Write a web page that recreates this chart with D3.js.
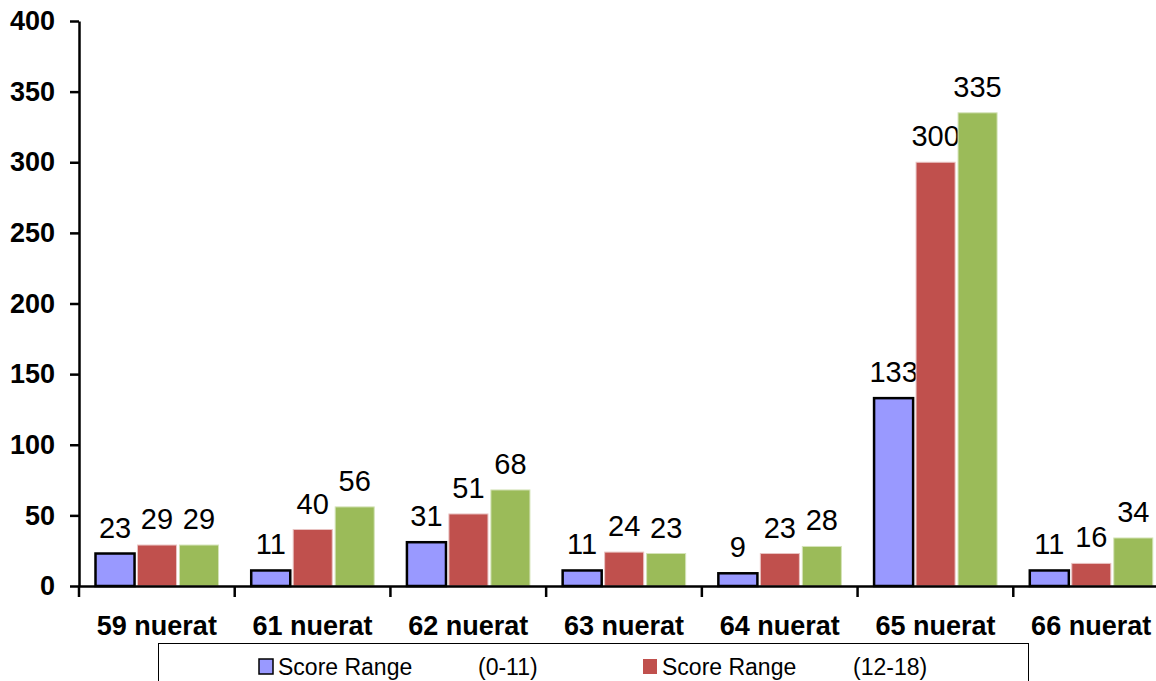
<!DOCTYPE html>
<html>
<head>
<meta charset="utf-8">
<script src="https://cdn.jsdelivr.net/npm/d3@7"></script>
<style>
    body { margin: 0; background: #fff; }
    svg { display: block; font-family: Arial, "Liberation Sans", sans-serif; }
</style>
</head>
<body>
<div id="chart"></div>
<script>
var categories = ["59 nuerat", "61 nuerat", "62 nuerat", "63 nuerat", "64 nuerat", "65 nuerat", "66 nuerat"];
var seriesNames = ["Score Range", "Score Range", "Score Range"];
var seriesRanges = ["(0-11)", "(12-18)", "(19-24)"];
var lowValues = [23, 11, 31, 11, 9, 133, 11];
var midValues = [29, 40, 51, 24, 23, 300, 16];
var highValues = [29, 56, 68, 23, 28, 335, 34];
var yTicks = [0, 50, 100, 150, 200, 250, 300, 350, 400];

var series = [lowValues, midValues, highValues];
var colors = ["#9999FF", "#C0504D", "#9BBB59"];
var strokes = ["#000", "#e9c3c2", "#d4e3b8"];
var strokeW = [2.5, 1, 1];

var width = 1156, height = 681;
var plotLeft = 79, plotRight = 1169, plotTop = 21, plotBottom = 586;

var svg = d3.select('#chart')
    .append('svg')
    .attr('width', width)
    .attr('height', height);

var x = d3.scaleBand()
    .domain(categories)
    .range([plotLeft, plotRight]);

var x1 = d3.scaleBand()
    .domain(d3.range(series.length))
    .range([16.5, x.bandwidth() - 16.2])
    .paddingInner(0.07);

var y = d3.scaleLinear()
    .domain([0, 400])
    .range([plotBottom, plotTop]);

// y axis
var yAxis = svg.append('g')
    .attr('transform', 'translate(' + plotLeft + ',0)')
    .call(d3.axisLeft(y).tickValues(yTicks).tickSize(9).tickPadding(15).tickSizeOuter(0));
yAxis.select('.domain').attr('stroke-width', 2.5);
yAxis.selectAll('.tick line').attr('stroke-width', 2.5);
yAxis.selectAll('.tick text')
    .attr('fill', '#000')
    .style('font-size', '27px')
    .style('font-weight', 'bold');

svg.append('line')
    .attr('x1', plotLeft).attr('x2', plotLeft)
    .attr('y1', plotBottom).attr('y2', plotBottom + 11)
    .attr('stroke', '#000').attr('stroke-width', 2.5);

// bars and value labels, one series at a time
series.forEach(function(vals, s) {
    var g = svg.append('g');
    g.selectAll('rect')
        .data(vals)
        .enter()
        .append('rect')
        .attr('x', function(d, i) { return x(categories[i]) + x1(s); })
        .attr('y', function(d) { return y(d); })
        .attr('width', x1.bandwidth())
        .attr('height', function(d) { return y(0) - y(d); })
        .attr('fill', colors[s])
        .attr('stroke', strokes[s])
        .attr('stroke-width', strokeW[s]);

    g.selectAll('text')
        .data(vals)
        .enter()
        .append('text')
        .attr('x', function(d, i) { return x(categories[i]) + x1(s) + x1.bandwidth() / 2; })
        .attr('y', function(d) { return y(d) - 16; })
        .attr('text-anchor', 'middle')
        .style('font-size', '29px')
        .text(function(d) { return d; });
});

// x axis
var xAxis = svg.append('g')
    .attr('transform', 'translate(0,' + plotBottom + ')')
    .call(d3.axisBottom(x).tickSize(0).tickPadding(30).tickSizeOuter(0));
xAxis.select('.domain').attr('stroke-width', 2.5);
xAxis.selectAll('.tick text')
    .attr('fill', '#000')
    .style('font-size', '27px')
    .style('font-weight', 'bold');

svg.append('g').selectAll('line')
    .data(categories.slice(1))
    .enter()
    .append('line')
    .attr('x1', function(d) { return x(d); })
    .attr('x2', function(d) { return x(d); })
    .attr('y1', plotBottom)
    .attr('y2', plotBottom + 11)
    .attr('stroke', '#000')
    .attr('stroke-width', 2.5);

// legend (cut by bottom edge)
var legend = svg.append('g');
legend.append('rect')
    .attr('x', 158.5).attr('y', 643.5)
    .attr('width', 870).attr('height', 80)
    .attr('fill', 'none')
    .attr('stroke', '#000')
    .attr('stroke-width', 1);

var legendPos = [[259, 658], [643, 658], [259, 690]];
var item = legend.selectAll('.legend')
    .data(seriesNames)
    .enter()
    .append('g')
    .attr('class', 'legend')
    .attr('transform', function(d, i) {
        return 'translate(' + legendPos[i][0] + ',' + legendPos[i][1] + ')';
    });

item.append('rect')
    .attr('y', 1)
    .attr('width', 14)
    .attr('height', 15)
    .attr('fill', function(d, i) { return colors[i]; })
    .attr('stroke', function(d, i) { return i === 0 ? '#000' : 'none'; })
    .attr('stroke-width', 1.5);

item.append('text')
    .attr('x', 19)
    .attr('y', 17)
    .style('font-size', '23px')
    .text(function(d) { return d; });

item.append('text')
    .attr('x', function(d, i) { return i === 1 ? 210 : 219; })
    .attr('y', 17)
    .style('font-size', '23px')
    .text(function(d, i) { return seriesRanges[i]; });
</script>
</body>
</html>
